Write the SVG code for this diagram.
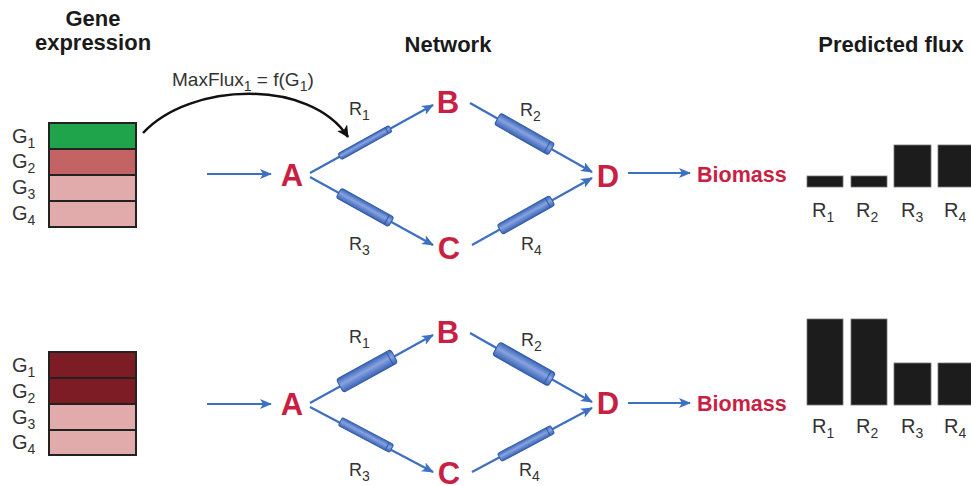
<svg xmlns="http://www.w3.org/2000/svg" width="971" height="486" viewBox="0 0 971 486">
<defs>
<style>
.hd{font-family:"Liberation Sans",Arial,sans-serif;font-weight:bold;font-size:22px;fill:#1a1a1a}
.lb{font-family:"Liberation Sans",Arial,sans-serif;font-size:20px;fill:#333}
.rl{font-family:"Liberation Sans",Arial,sans-serif;font-size:18px;fill:#333}
.mf{font-family:"Liberation Sans",Arial,sans-serif;font-size:19px;fill:#333}
.sb{font-size:14px}
.nd{font-family:"Liberation Sans",Arial,sans-serif;font-weight:bold;font-size:31px;fill:#c91f45}
.bm{font-family:"Liberation Sans",Arial,sans-serif;font-weight:bold;font-size:21.5px;fill:#c91f45}
.e{stroke:#3d6fc2;stroke-width:2.2;fill:none;marker-end:url(#ah)}
.cyl{fill:url(#cg);stroke:#2f5aa8;stroke-width:1}
.cap{fill:none;stroke:#2f5aa8;stroke-width:1}
.bar{fill:#1c1c1c;stroke:#777;stroke-width:0.8}
.gb{stroke:#222;stroke-width:2}
</style>
<linearGradient id="cg" x1="0" y1="0" x2="0" y2="1">
<stop offset="0" stop-color="#3a65b8"/>
<stop offset="0.45" stop-color="#87a3e0"/>
<stop offset="1" stop-color="#3a62b4"/>
</linearGradient>
<marker id="ah" markerWidth="12" markerHeight="10" refX="11" refY="5" orient="auto" markerUnits="userSpaceOnUse">
<path d="M0,0 L12,5 L0,10 L3,5 Z" fill="#3d6fc2"/>
</marker>
<marker id="ahk" markerWidth="12" markerHeight="12" refX="11" refY="6" orient="auto" markerUnits="userSpaceOnUse">
<path d="M0,0 L12,6 L0,12 L3,6 Z" fill="#111"/>
</marker>
</defs>
<rect width="971" height="486" fill="#fff"/>

<g id="headings">
<text class="hd" x="93" y="26" text-anchor="middle" font-size="21">Gene</text>
<text class="hd" x="93" y="50" text-anchor="middle" font-size="21">expression</text>
<text class="hd" x="448" y="52" text-anchor="middle">Network</text>
<text class="hd" x="891" y="52" text-anchor="middle">Predicted flux</text>
</g>

<!-- top panel -->
<g id="gene-top">
<rect x="49" y="123" width="87" height="26" fill="#1fa34b" class="gb"/>
<rect x="49" y="149" width="87" height="26" fill="#c46363" class="gb"/>
<rect x="49" y="175" width="87" height="26" fill="#e2abab" class="gb"/>
<rect x="49" y="201" width="87" height="26" fill="#e2abab" class="gb"/>
<text class="lb" x="12" y="143">G<tspan class="sb" dy="5">1</tspan></text>
<text class="lb" x="12" y="168">G<tspan class="sb" dy="5">2</tspan></text>
<text class="lb" x="12" y="194">G<tspan class="sb" dy="5">3</tspan></text>
<text class="lb" x="12" y="220">G<tspan class="sb" dy="5">4</tspan></text>
</g>
<g id="maxflux">
<path d="M143,133 C190,82 310,78 348,137" stroke="#111" stroke-width="2.5" fill="none" marker-end="url(#ahk)"/>
<text class="mf" x="172" y="86">MaxFlux<tspan class="sb" dy="5">1</tspan><tspan dy="-5"> = f(G</tspan><tspan class="sb" dy="5">1</tspan><tspan dy="-5">)</tspan></text>
</g>
<g id="A-top"><text class="nd" x="292" y="186" text-anchor="middle">A</text></g>
<g id="B-top"><text class="nd" x="448" y="113" text-anchor="middle">B</text></g>
<g id="C-top"><text class="nd" x="449" y="259" text-anchor="middle">C</text></g>
<g id="D-top"><text class="nd" x="608" y="187" text-anchor="middle">D</text></g>
<g id="biomass-top"><text class="bm" x="697" y="182">Biomass</text></g>
<g id="connectors-top">
<line class="e" x1="207" y1="174" x2="271" y2="174"/>
<line class="e" x1="310" y1="173" x2="433" y2="105"/>
<line class="e" x1="470" y1="103" x2="592" y2="172"/>
<line class="e" x1="310" y1="177" x2="433" y2="245"/>
<line class="e" x1="472" y1="245" x2="592" y2="178"/>
<line class="e" x1="628" y1="173" x2="690" y2="173"/>
</g>
<g id="reactions-top">
<g transform="translate(365,142.6) rotate(-28.9)"><rect class="cyl" x="-29" y="-3.5" width="58" height="7" rx="2"/><line class="cap" x1="25" y1="-3.5" x2="25" y2="3.5"/></g>
<g transform="translate(524.5,134) rotate(29.5)"><rect class="cyl" x="-31" y="-6.5" width="62" height="13" rx="2.5"/><line class="cap" x1="26" y1="-6.5" x2="26" y2="6.5"/></g>
<g transform="translate(365,207.4) rotate(28.9)"><rect class="cyl" x="-30" y="-5.5" width="60" height="11" rx="2.5"/><line class="cap" x1="25" y1="-5.5" x2="25" y2="5.5"/></g>
<g transform="translate(526,215) rotate(-29.2)"><rect class="cyl" x="-30" y="-5.5" width="60" height="11" rx="2.5"/><line class="cap" x1="25" y1="-5.5" x2="25" y2="5.5"/></g>
<text class="rl" x="349" y="115">R<tspan class="sb" dy="5">1</tspan></text>
<text class="rl" x="520" y="116">R<tspan class="sb" dy="5">2</tspan></text>
<text class="rl" x="349" y="250">R<tspan class="sb" dy="5">3</tspan></text>
<text class="rl" x="521" y="250">R<tspan class="sb" dy="5">4</tspan></text>
</g>
<g id="flux-top">
<rect class="bar" x="807" y="176" width="36" height="11"/>
<rect class="bar" x="851" y="176" width="36" height="11"/>
<rect class="bar" x="894" y="145" width="37" height="42"/>
<rect class="bar" x="938" y="145" width="37" height="42"/>
<text class="lb" x="812" y="217">R<tspan class="sb" dy="5">1</tspan></text>
<text class="lb" x="856" y="217">R<tspan class="sb" dy="5">2</tspan></text>
<text class="lb" x="901" y="217">R<tspan class="sb" dy="5">3</tspan></text>
<text class="lb" x="944" y="217">R<tspan class="sb" dy="5">4</tspan></text>
</g>

<!-- bottom panel -->
<g id="gene-bottom">
<rect x="49" y="352" width="87" height="26" fill="#7d1c24" class="gb"/>
<rect x="49" y="378" width="87" height="26" fill="#7d1c24" class="gb"/>
<rect x="49" y="404" width="87" height="26" fill="#e2abab" class="gb"/>
<rect x="49" y="430" width="87" height="25" fill="#e2abab" class="gb"/>
<text class="lb" x="12" y="372">G<tspan class="sb" dy="5">1</tspan></text>
<text class="lb" x="12" y="398">G<tspan class="sb" dy="5">2</tspan></text>
<text class="lb" x="12" y="424">G<tspan class="sb" dy="5">3</tspan></text>
<text class="lb" x="12" y="449">G<tspan class="sb" dy="5">4</tspan></text>
</g>
<g id="A-bottom"><text class="nd" x="292" y="415" text-anchor="middle">A</text></g>
<g id="B-bottom"><text class="nd" x="448" y="343" text-anchor="middle">B</text></g>
<g id="C-bottom"><text class="nd" x="449" y="484" text-anchor="middle">C</text></g>
<g id="D-bottom"><text class="nd" x="608" y="414" text-anchor="middle">D</text></g>
<g id="biomass-bottom"><text class="bm" x="697" y="411">Biomass</text></g>
<g id="connectors-bottom">
<line class="e" x1="207" y1="404" x2="271" y2="404"/>
<line class="e" x1="310" y1="403" x2="433" y2="335"/>
<line class="e" x1="470" y1="333" x2="592" y2="402"/>
<line class="e" x1="310" y1="407" x2="433" y2="472"/>
<line class="e" x1="472" y1="472" x2="592" y2="408"/>
<line class="e" x1="628" y1="403" x2="690" y2="403"/>
</g>
<g id="reactions-bottom">
<g transform="translate(367,371) rotate(-28.9)"><rect class="cyl" x="-31" y="-7.5" width="62" height="15" rx="3"/><line class="cap" x1="26" y1="-7.5" x2="26" y2="7.5"/></g>
<g transform="translate(524,364) rotate(29.5)"><rect class="cyl" x="-32" y="-7.5" width="64" height="15" rx="3"/><line class="cap" x1="27" y1="-7.5" x2="27" y2="7.5"/></g>
<g transform="translate(366,435) rotate(27.8)"><rect class="cyl" x="-29" y="-4.5" width="58" height="9" rx="2"/><line class="cap" x1="24" y1="-4.5" x2="24" y2="4.5"/></g>
<g transform="translate(526,443.5) rotate(-28)"><rect class="cyl" x="-30" y="-4.5" width="60" height="9" rx="2"/><line class="cap" x1="25" y1="-4.5" x2="25" y2="4.5"/></g>
<text class="rl" x="349" y="343">R<tspan class="sb" dy="5">1</tspan></text>
<text class="rl" x="521" y="346">R<tspan class="sb" dy="5">2</tspan></text>
<text class="rl" x="349" y="476">R<tspan class="sb" dy="5">3</tspan></text>
<text class="rl" x="519" y="476">R<tspan class="sb" dy="5">4</tspan></text>
</g>
<g id="flux-bottom">
<rect class="bar" x="807" y="319" width="36" height="86"/>
<rect class="bar" x="851" y="319" width="36" height="86"/>
<rect class="bar" x="894" y="363" width="37" height="42"/>
<rect class="bar" x="938" y="363" width="37" height="42"/>
<text class="lb" x="812" y="433">R<tspan class="sb" dy="5">1</tspan></text>
<text class="lb" x="856" y="433">R<tspan class="sb" dy="5">2</tspan></text>
<text class="lb" x="901" y="433">R<tspan class="sb" dy="5">3</tspan></text>
<text class="lb" x="944" y="433">R<tspan class="sb" dy="5">4</tspan></text>
</g>
</svg>
